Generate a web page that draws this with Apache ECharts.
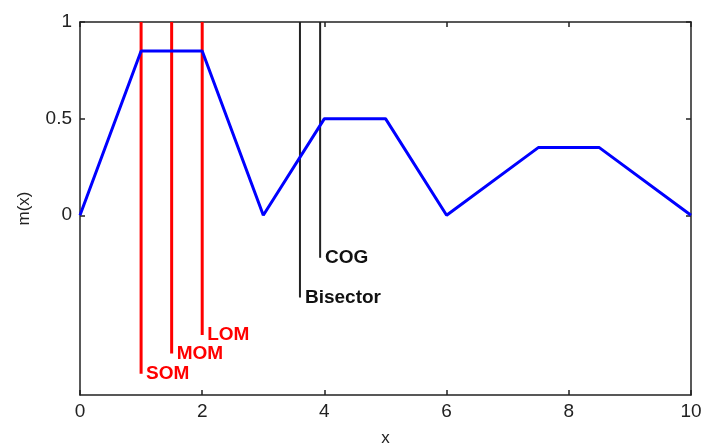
<!DOCTYPE html>
<html>
<head>
<meta charset="utf-8">
<script src="https://cdn.jsdelivr.net/npm/echarts@6/dist/echarts.min.js"></script>
<style>
  html, body { margin: 0; padding: 0; background: #fff; }
  #main { width: 701px; height: 445px; }
</style>
</head>
<body>
<div id="main"></div>
<script>
// membership curve
var curveX = [0, 1, 2, 3, 4, 5, 6, 7.5, 8.5, 10];
var curveY = [0, 0.85, 0.85, 0, 0.5, 0.5, 0, 0.35, 0.35, 0];

// defuzzified values (vertical markers)
var markNames = ['SOM', 'MOM', 'LOM', 'Bisector', 'COG'];
var markX = [1, 1.5, 2, 3.6, 3.93];
var markBottom = [-0.82, -0.715, -0.62, -0.425, -0.22];
var markColors = ['#ff0000', '#ff0000', '#ff0000', '#222222', '#222222'];

var xTicks = [0, 2, 4, 6, 8, 10];
var yTicks = [0, 0.5, 1];

var chart = echarts.init(document.getElementById('main'));
var font = 'Liberation Sans, Arial, sans-serif';

var series = [];
markNames.forEach(function (name, i) {
  var red = markColors[i] === '#ff0000';
  series.push({
    type: 'line',
    xAxisIndex: 0,
    yAxisIndex: 0,
    symbol: 'circle',
    symbolSize: 0,
    showSymbol: true,
    animation: false,
    lineStyle: { color: markColors[i], width: red ? 3 : 2 },
    itemStyle: { color: markColors[i] },
    data: [
      [markX[i], 1],
      {
        value: [markX[i], markBottom[i]],
        label: {
          show: true,
          position: 'right',
          distance: 5,
          formatter: name,
          color: red ? '#ff0000' : '#111',
          fontWeight: 'bold',
          fontSize: 19,
          fontFamily: font
        }
      }
    ]
  });
});

series.push({
  type: 'line',
  xAxisIndex: 0,
  yAxisIndex: 0,
  symbol: 'none',
  animation: false,
  lineStyle: { color: '#0000ff', width: 3 },
  data: curveX.map(function (x, i) { return [x, curveY[i]]; }),
  z: 3
});

var axisLine = { show: true, onZero: false, lineStyle: { color: '#222', width: 1.5 } };
var tick = { show: true, inside: true, length: 5, lineStyle: { color: '#222', width: 1.5 } };

chart.setOption({
  backgroundColor: '#fff',
  animation: false,
  grid: { left: 80, right: 10, top: 22, bottom: 50, outerBoundsMode: 'none', containLabel: false },
  xAxis: [{
    type: 'value', min: 0, max: 10, interval: 2, position: 'bottom',
    name: 'x', nameLocation: 'middle', nameGap: 35,
    nameTextStyle: { fontSize: 17, color: '#222', fontFamily: font },
    axisLine: axisLine, axisTick: tick, splitLine: { show: false },
    axisLabel: { fontSize: 19, color: '#222', margin: 7, fontFamily: font,
      formatter: function (v) { return xTicks.indexOf(v) >= 0 ? String(v) : ''; } }
  }, {
    type: 'value', min: 0, max: 10, interval: 2, position: 'top',
    axisLine: axisLine, axisTick: tick, splitLine: { show: false },
    axisLabel: { show: false }
  }],
  yAxis: [{
    type: 'value', min: -0.93, max: 1, position: 'left',
    name: 'm(x)', nameLocation: 'middle', nameGap: 47,
    nameTextStyle: { fontSize: 17, color: '#222', fontFamily: font },
    axisLine: axisLine, splitLine: { show: false },
    axisTick: Object.assign({ customValues: yTicks }, tick),
    axisLabel: { customValues: yTicks, fontSize: 19, color: '#222', margin: 8, fontFamily: font }
  }, {
    type: 'value', min: -0.93, max: 1, position: 'right',
    axisLine: axisLine, splitLine: { show: false },
    axisTick: Object.assign({ customValues: yTicks }, tick),
    axisLabel: { show: false }
  }],
  series: series
});
</script>
</body>
</html>
